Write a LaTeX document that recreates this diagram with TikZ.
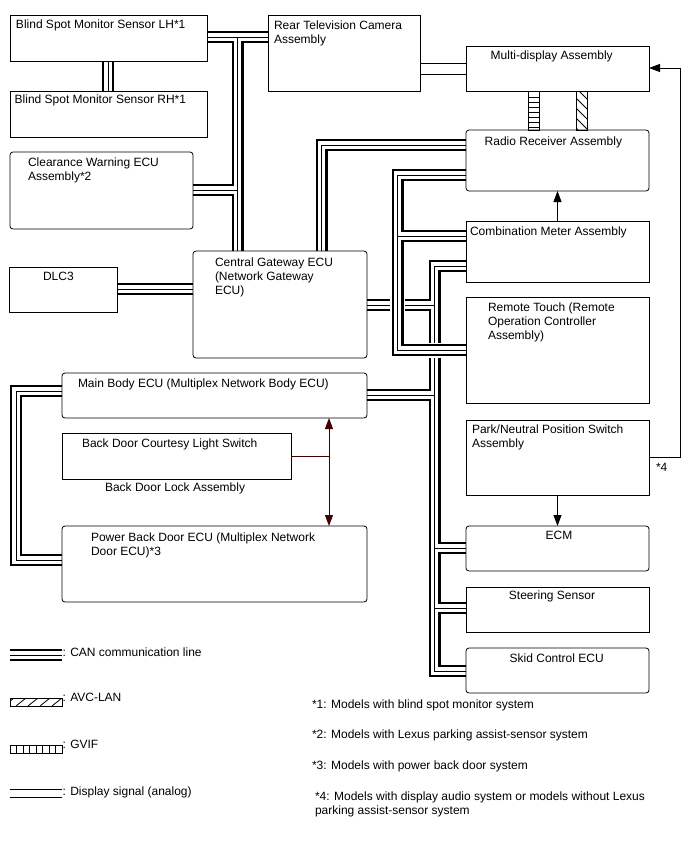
\documentclass[tikz,border=0pt]{standalone}
\usepackage{fontspec}
\setmainfont{Liberation Sans}
\usetikzlibrary{arrows.meta}
\pgfdeclarelayer{background}
\pgfsetlayers{background,main}
\newcommand\ecufont{\fontsize{12}{14}\selectfont}
\definecolor{doorline}{RGB}{64,0,0}

\tikzset{
  unitbox/.style={draw,line width=0.8pt,inner sep=0pt,outer sep=0pt,anchor=north west},
  ecubox/.style={unitbox,rounded corners=3pt},
  lbl/.style={anchor=north west,inner sep=0pt,outer sep=0pt,font=\ecufont,align=left},
  clbl/.style={lbl,anchor=north},
  canhalo/.style={line width=15pt,white},
  canblack/.style={line width=12pt,black},
  cangap/.style={line width=7.4pt,white},
  cancore/.style={line width=1pt,black},
  sigline/.style={line width=0.8pt},
  sigarrow/.style={line width=0.8pt,-{Triangle[length=11pt,width=8pt]}},
}

\begin{document}
\begin{tikzpicture}[x=1pt,y=-1pt]
  \useasboundingbox (0,0) rectangle (688,852);

  % units on the left
  \node[unitbox,minimum width=197pt,minimum height=46pt] (bsmlh) at (10,15) {};
  \node[unitbox,minimum width=197pt,minimum height=46pt] (bsmrh) at (10,91) {};
  \node[ecubox,minimum width=183pt,minimum height=77pt] (cw) at (10,152) {};
  \node[unitbox,minimum width=108pt,minimum height=45pt] (dlc) at (9,267) {};
  \node[ecubox,minimum width=174pt,minimum height=107pt] (gw) at (193,251) {};
  \node[ecubox,minimum width=305pt,minimum height=45pt] (mb) at (62,373) {};
  \node[unitbox,minimum width=229pt,minimum height=46pt] (bdcls) at (62,433) {};
  \node[ecubox,minimum width=305pt,minimum height=76pt] (pbd) at (62,526) {};
  \node[unitbox,minimum width=152pt,minimum height=76pt] (rtv) at (268,15) {};

  % units on the right
  \node[unitbox,minimum width=183pt,minimum height=45pt] (md) at (466,46) {};
  \node[ecubox,minimum width=183pt,minimum height=61pt] (radio) at (466,130) {};
  \node[unitbox,minimum width=183pt,minimum height=61pt] (comb) at (466,221) {};
  \node[unitbox,minimum width=183pt,minimum height=106pt] (rt) at (466,297) {};
  \node[unitbox,minimum width=183pt,minimum height=75pt] (park) at (466,420) {};
  \node[ecubox,minimum width=183pt,minimum height=45pt] (ecm) at (466,526) {};
  \node[unitbox,minimum width=183pt,minimum height=45pt] (steer) at (466,587) {};
  \node[ecubox,minimum width=183pt,minimum height=45pt] (skid) at (466,648) {};

  % labels
  \node[lbl] (bsmlhtxt) at (16,20) {Blind Spot Monitor Sensor LH*1};
  \node[lbl] (bsmrhtxt) at (14.7,95) {Blind Spot Monitor Sensor RH*1};
  \node[lbl] (cwtxt) at (28,158) {Clearance Warning ECU\\Assembly*2};
  \node[lbl] (dlctxt) at (43,272) {DLC3};
  \node[lbl] (gwtxt) at (215,258) {Central Gateway ECU\\(Network Gateway\\ECU)};
  \node[lbl] (mbtxt) at (78,379) {Main Body ECU (Multiplex Network Body ECU)};
  \node[lbl] (bdclstxt) at (82,439) {Back Door Courtesy Light Switch};
  \node[lbl] (bdlatxt) at (105,483) {Back Door Lock Assembly};
  \node[lbl] (pbdtxt) at (91,533) {Power Back Door ECU (Multiplex Network\\Door ECU)*3};
  \node[lbl] (rtvtxt) at (274,21) {Rear Television Camera\\Assembly};
  \node[lbl] (mdtxt) at (490.7,51) {Multi-display Assembly};
  \node[lbl] (radiotxt) at (484.7,137) {Radio Receiver Assembly};
  \node[lbl] (combtxt) at (470,227) {Combination Meter Assembly};
  \node[lbl] (rttxt) at (488,303) {Remote Touch (Remote\\Operation Controller\\Assembly)};
  \node[lbl] (parktxt) at (472,425) {Park/Neutral Position Switch\\Assembly};
  \node[clbl] (ecmtxt) at (559,531) {ECM};
  \node[clbl] (steertxt) at (552,591) {Steering Sensor};
  \node[clbl] (skidtxt) at (556.7,654) {Skid Control ECU};
  \node[lbl] (fourtxt) at (656,463) {*4};

  % bus corners
  \coordinate (tl) at (237.5,37);
  \coordinate (gwtop) at (321.5,145);
  \coordinate (rbtop) at (434.5,266);
  \coordinate (rbbot) at (434.5,671);
  \coordinate (lbtop) at (397.5,175);
  \coordinate (lbbot) at (397.5,350);
  \coordinate (mbleft) at (16,391);
  \coordinate (pbdleft) at (16,560);
  \coordinate (fourtop) at (680,68);

  \begin{pgfonlayer}{background}
    \fill[white] (0,0) rectangle (688,852);
    % CAN lines, drawn layer by layer so that junctions merge
    \foreach \lay in {canblack,cangap,cancore}{
      \draw[\lay] (bsmlh.east |- tl) -- (rtv.west |- tl);
      \draw[\lay] (tl) -- (tl |- gw.north);
      \draw[\lay] (cw.east |- 0,190) -- (tl |- 0,190);
      \draw[\lay] (bsmlh.south -| 108,0) -- (bsmrh.north -| 108,0);
      \draw[\lay] (dlc.east |- 0,289) -- (gw.west |- 0,289);
      \draw[\lay] (gw.north -| gwtop) -- (gwtop) -- (radio.west |- gwtop);
      \draw[\lay] (comb.west |- rbtop) -- (rbtop) -- (rbbot) -- (skid.west |- rbbot);
      \draw[\lay] (gw.east |- 0,305) -- (rbtop |- 0,305);
      \draw[\lay] (mb.east |- 0,395) -- (rbtop |- 0,395);
      \draw[\lay] (rbtop |- 0,548) -- (ecm.west |- 0,548);
      \draw[\lay] (rbtop |- 0,608) -- (steer.west |- 0,608);
      \draw[\lay] (mb.west |- mbleft) -- (mbleft) -- (pbdleft) -- (pbd.west |- pbdleft);
      \draw[\lay] (10,655) -- (62,655);
    }
    % this bus crosses over the others
    \foreach \lay in {canhalo,canblack,cangap,cancore}{
      \draw[\lay] (radio.west |- lbtop) -- (lbtop) -- (lbbot) -- (rt.west |- lbbot);
      \draw[\lay] (lbtop |- 0,236) -- (comb.west |- 0,236);
    }
  \end{pgfonlayer}

  % display signal, GVIF, AVC-LAN
  \draw[sigline] (rtv.east |- 0,63) -- (md.west |- 0,63);
  \draw[sigline] (rtv.east |- 0,74) -- (md.west |- 0,74);
  \draw[sigline] (528,0 |- md.south) rectangle (539,0 |- radio.north);
  \foreach \y in {97,102,...,127}
    \draw[sigline] (528,\y) -- (539,\y);
  \draw[sigline] (576,0 |- md.south) rectangle (587,0 |- radio.north);
  \begin{scope}
    \clip (576,91) rectangle (587,130);
    \foreach \y in {78,88,...,128}
      \draw[sigline] (576,\y) -- (587,\y+11);
  \end{scope}

  % signal arrows
  \draw[sigarrow] (comb.north) -- (radio.south);
  \draw[sigarrow] (park.south) -- (ecm.north);
  \draw[sigarrow] (park.east |- 0,457) -| (fourtop) -- (md.east |- fourtop);
  \draw[doorline,line width=0.9pt,{Triangle[length=11pt,width=8pt]}-{Triangle[length=11pt,width=8pt]}]
    (329,0 |- mb.south) -- (329,0 |- pbd.north);
  \draw[doorline,line width=0.8pt] (bdcls.east) -- (329,0 |- bdcls.east);

  % legend
  \node[lbl] (cantxt) at (62.5,648) {: CAN communication line};
  \draw[sigline] (10,698) rectangle (62,706);
  \begin{scope}
    \clip (10,698) rectangle (62,706);
    \foreach \x in {4,16,...,64}
      \draw[sigline] (\x,706) -- (\x+10,698);
  \end{scope}
  \node[lbl] (avctxt) at (62.5,693) {: AVC-LAN};
  \draw[sigline] (10,745) rectangle (62,753);
  \foreach \x in {16.5,23,...,56}
    \draw[sigline] (\x,745) -- (\x,753);
  \node[lbl] (gviftxt) at (62.5,740) {: GVIF};
  \draw[sigline] (10,789) -- (62,789);
  \draw[sigline] (10,797) -- (62,797);
  \node[lbl] (disptxt) at (62.5,787) {: Display signal (analog)};

  % notes
  \node[lbl] (note1) at (312,700) {*1: Models with blind spot monitor system};
  \node[lbl] (note2) at (312,730) {*2: Models with Lexus parking assist-sensor system};
  \node[lbl] (note3) at (312,761) {*3: Models with power back door system};
  \node[lbl] (note4) at (315,792) {*4: Models with display audio system or models without Lexus\\parking assist-sensor system};
\end{tikzpicture}
\end{document}
